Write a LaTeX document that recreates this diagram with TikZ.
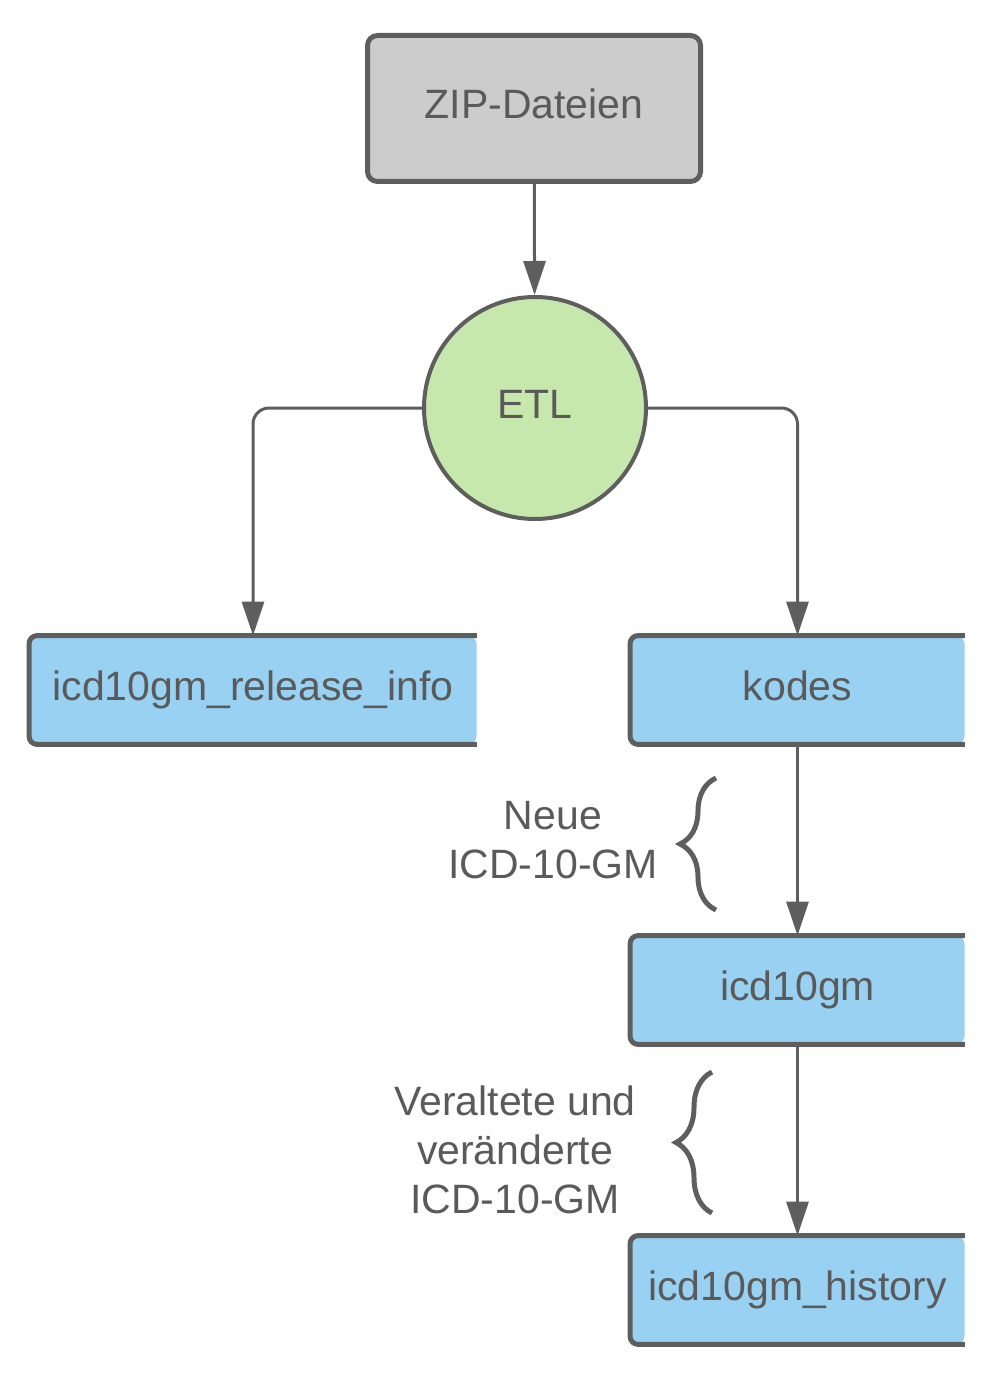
\documentclass[tikz,border=0pt]{standalone}
\usepackage{fontspec}
\setmainfont{Liberation Sans}
\usetikzlibrary{arrows.meta,decorations.pathreplacing}

\definecolor{linegray}{HTML}{5E5E5E}
\definecolor{textgray}{HTML}{5A5A5A}
\definecolor{boxgray}{HTML}{CCCCCC}
\definecolor{boxblue}{HTML}{99D1F2}
\definecolor{etlgreen}{HTML}{C7E8AC}

\tikzset{
	txt/.style={text=textgray, font=\fontsize{20.5}{24.5}\selectfont},
	boxtxt/.style={txt, text height=15pt, text depth=5pt},
	tablebox/.style={boxtxt, fill=boxblue, rounded corners=4pt, minimum height=54pt, inner sep=0pt},
	tableedge/.style={draw=linegray, line width=2.5pt, rounded corners=4pt},
	conn/.style={draw=linegray, line width=1.5pt, -{Triangle[width=11pt,length=17pt]}},
	curly/.style={draw=linegray, line width=2.5pt, decorate, decoration={brace, amplitude=18pt}}
}

\begin{document}
\begin{tikzpicture}[x=0.5pt, y=-0.5pt]
	
	\useasboundingbox (0,0) rectangle (1005,1380);
	
	\node[boxtxt, draw=linegray, fill=boxgray, line width=2.5pt, rounded corners=5pt, minimum width=166.5pt, minimum height=73pt] (zip) at (534,108.5) {ZIP-Dateien};
	\node[boxtxt, circle, draw=linegray, fill=etlgreen, line width=2pt, minimum size=111pt, inner sep=0pt] (etl) at (535,408) {ETL};
	
	\node[tablebox, minimum width=223.5pt] (release) at (253,690) {icd10gm\_release\_info};
	\node[tablebox, minimum width=167pt] (kodes) at (797.5,690) {kodes};
	\node[tablebox, minimum width=167pt] (icd) at (797.5,990) {icd10gm};
	\node[tablebox, minimum width=167pt] (history) at (797.5,1290) {icd10gm\_history};
	
	% borders open on the right
	\foreach \t in {release, kodes, icd, history}
	\draw[tableedge] (\t.north east) -- (\t.north west) -- (\t.south west) -- (\t.south east);
	
	\draw[conn] (zip) -- (etl);
	\draw[conn, rounded corners=8pt] (etl.west) -| (release.north);
	\draw[conn, rounded corners=8pt] (etl.east) -| (kodes.north);
	\draw[conn] (kodes) -- (icd);
	\draw[conn] (icd) -- (history);
	
	\draw[curly] (716,910) -- (716,778);
	\node[txt, align=center] (neu) at (553,840) {Neue\\ICD-10-GM};
	
	\draw[curly] (712,1213) -- (712,1072);
	\node[txt, align=center] (alt) at (515,1150) {Veraltete und\\veränderte\\ICD-10-GM};
	
\end{tikzpicture}
\end{document}
